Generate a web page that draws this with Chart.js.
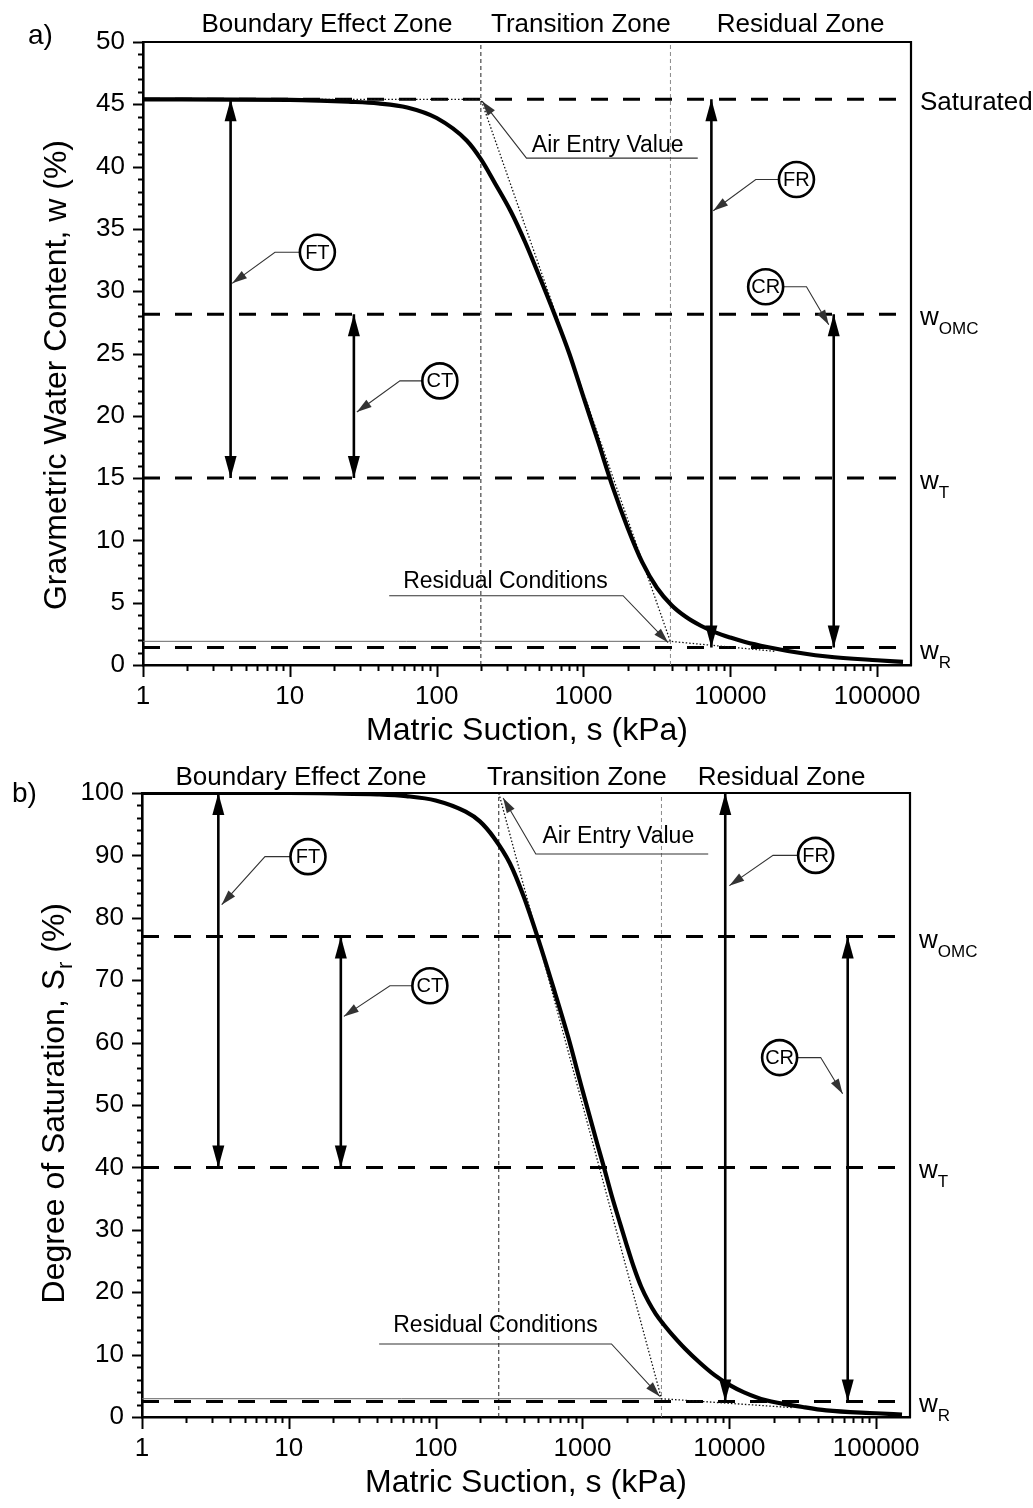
<!DOCTYPE html>
<html>
<head>
<meta charset="utf-8">
<title>Water content and saturation vs matric suction</title>
<script src="https://cdn.jsdelivr.net/npm/chart.js@4.4.1/dist/chart.umd.min.js"></script>
<style>
  html, body { margin: 0; padding: 0; background: #fff; }
  canvas { display: block; }
</style>
</head>
<body>
<canvas id="chart-a" width="1033" height="754"></canvas>
<canvas id="chart-b" width="1033" height="754"></canvas>
<script>
const FONT = "'Liberation Sans', Arial, Helvetica, sans-serif";

/* ── shared ── */
const X_MAX = 170000;
const decades = [1, 10, 100, 1000, 10000, 100000];
const arrowNames = ['FT', 'CT', 'FR', 'CR'];

/* ── panel a: gravimetric water content ── */
const suctionA = [1, 10, 16, 25, 40, 63, 100, 160, 200, 250, 320, 400, 500, 630, 800, 1000, 1260, 1580, 2000, 2510, 3160, 3980, 5000, 6300, 7900, 10000, 12600, 17800, 31600, 45700, 100000, 150000];
const waterA   = [45.4, 45.36, 45.3, 45.21, 45.07, 44.75, 43.9, 42.1, 40.6, 38.65, 36.4, 33.95, 31.2, 28.25, 25.0, 21.5, 17.9, 14.3, 11.0, 8.25, 6.2, 4.8, 3.85, 3.15, 2.62, 2.2, 1.85, 1.45, 0.92, 0.68, 0.38, 0.25];
const levelValuesA = [45.4, 28.15, 15, 1.4];
const levelNamesA  = ['Saturated', 'w|OMC', 'w|T', 'w|R'];
const zoneSuctionA = [200, 3910];
const airEntryA    = [200, 45.4];
const residualA    = [3900, 1.9];
const resTangentA  = [20000, 1.1];
const arrowSuctionA = [3.95, 27.3, 7430, 50600];
const arrowTopA     = [45.4, 28.15, 45.4, 28.15];
const arrowBottomA  = [15, 15, 1.4, 1.4];

/* ── panel b: degree of saturation ── */
const suctionB    = [1, 10, 20, 40, 63, 100, 160, 200, 250, 320, 400, 500, 630, 800, 1000, 1260, 1400, 1580, 1780, 2000, 2240, 2510, 2820, 3160, 3550, 3980, 5000, 6300, 7900, 10000, 12600, 17800, 31600, 45700, 100000, 150000];
const saturationB = [100, 100, 99.93, 99.78, 99.5, 98.8, 97.0, 95.45, 92.8, 88.75, 83.25, 76.55, 69.0, 60.85, 52.35, 43.8, 40.0, 35.5, 31.45, 27.55, 23.95, 20.87, 18.45, 16.5, 14.9, 13.5, 10.95, 8.7, 6.75, 5.15, 3.95, 2.67, 1.6, 1.05, 0.6, 0.4];
const levelValuesB = [77, 40, 2.5];
const levelNamesB  = ['w|OMC', 'w|T', 'w|R'];
const zoneSuctionB = [269, 3450];
const airEntryB    = [269, 100];
const residualB    = [3450, 2.93];
const resTangentB  = [27000, 1.5];
const arrowSuctionB = [3.31, 22.6, 9380, 64000];
const arrowTopB     = [100, 77, 100, 77];
const arrowBottomB  = [40, 40, 2.5, 2.5];

/* ── layout (annotation positions in data units) ── */
const panelA = {
  id: 'a', top: 42, bottom: 665, left: 143, right: 911, yMax: 50, yStep: 5, yMinor: 1,
  suction: suctionA, value: waterA, levels: levelValuesA, levelNames: levelNamesA,
  zones: zoneSuctionA, air: airEntryA, res: residualA, resEnd: resTangentA,
  arrowX: arrowSuctionA, arrowTop: arrowTopA, arrowBottom: arrowBottomA,
  letter: ['a)', 28, 44],
  yTitle: [{t: 'Gravmetric Water Content, w (%)', s: 32}], yTitleX: 66, yTitleEnd: 140,
  zoneTitleDy: -10,
  zoneTitles: [[17.9, 'Boundary Effect Zone'], [959, 'Transition Zone'], [30100, 'Residual Zone']],
  circles: [[15.4, 33.12], [105.1, 22.8], [28200, 38.97], [17400, 30.36]],
  leaders: [
    [[15.4, 33.12], [7.92, 33.12], [4.05, 30.63]],
    [[105.1, 22.8], [56.2, 22.8], [28.6, 20.3]],
    [[28200, 38.97], [14900, 38.97], [7650, 36.46]],
    [[17400, 30.36], [33000, 30.36], [46800, 27.3]]
  ],
  notes: [['Air Entry Value', 445, 41.16], ['Residual Conditions', 59.1, 6.17]],
  noteLeaders: [
    [[6000, 40.68], [409, 40.68], [204, 45.25]],
    [[47.5, 5.56], [1860, 5.56], [3767, 1.8]]
  ]
};

const panelB = {
  id: 'b', top: 39, bottom: 663, left: 142, right: 910, yMax: 100, yStep: 10, yMinor: 2,
  suction: suctionB, value: saturationB, levels: levelValuesB, levelNames: levelNamesB,
  zones: zoneSuctionB, air: airEntryB, res: residualB, resEnd: resTangentB,
  arrowX: arrowSuctionB, arrowTop: arrowTopB, arrowBottom: arrowBottomB,
  letter: ['b)', 12, 48],
  yTitle: [{t: 'Degree of Saturation, S', s: 32}, {t: 'r', s: 22, dy: 8}, {t: ' (%)', s: 32}],
  yTitleX: 64, yTitleEnd: 149,
  zoneTitleDy: -8,
  zoneTitles: [[12.1, 'Boundary Effect Zone'], [915, 'Transition Zone'], [22700, 'Residual Zone']],
  circles: [[13.5, 89.8], [91.3, 69.1], [38700, 90.0], [22000, 57.6]],
  leaders: [
    [[13.5, 89.8], [6.88, 89.8], [3.49, 82.1]],
    [[91.3, 69.1], [48.8, 69.1], [23.7, 64.2]],
    [[38700, 90.0], [19840, 90.0], [10000, 85.15]],
    [[22000, 57.6], [41900, 57.6], [59100, 51.8]]
  ],
  notes: [['Air Entry Value', 534, 92.04], ['Residual Conditions', 51.4, 13.67]],
  noteLeaders: [
    [[7180, 90.22], [481, 90.22], [288, 99.2]],
    [[41.2, 11.7], [1575, 11.7], [3360, 3.3]]
  ]
};

/* ── helpers ── */
function pts(pairs) { return pairs.map(p => ({x: p[0], y: p[1]})); }

function head(ctx, from, tip, len, half) {
  const a = Math.atan2(tip.y - from.y, tip.x - from.x);
  const c = Math.cos(a), s = Math.sin(a);
  ctx.beginPath();
  ctx.moveTo(tip.x, tip.y);
  ctx.lineTo(tip.x - len * c + half * s, tip.y - len * s - half * c);
  ctx.lineTo(tip.x - len * c - half * s, tip.y - len * s + half * c);
  ctx.closePath();
  ctx.fill();
}

// draws runs of text [{t, s, dy}] starting at x along baseline y
function runs(ctx, parts, x, y, align) {
  let total = 0;
  parts.forEach(p => { ctx.font = p.s + 'px ' + FONT; total += ctx.measureText(p.t).width; });
  let cx = align === 'right' ? x - total : align === 'center' ? x - total / 2 : x;
  ctx.textAlign = 'left';
  parts.forEach(p => {
    ctx.font = p.s + 'px ' + FONT;
    ctx.fillText(p.t, cx, y + (p.dy || 0));
    cx += ctx.measureText(p.t).width;
  });
}

function levelParts(name) {
  const [main, sub] = name.split('|');
  const parts = [{t: main, s: 26}];
  if (sub) parts.push({t: sub, s: 17, dy: 9});
  return parts;
}

function makeDecor(P) {
  return {
    id: 'decor' + P.id,
    afterDraw(chart) {
      const ctx = chart.ctx, ca = chart.chartArea;
      const xs = chart.scales.x, ys = chart.scales.y;
      const px = v => xs.getPixelForValue(v), py = v => ys.getPixelForValue(v);
      ctx.save();
      ctx.fillStyle = '#000';
      ctx.strokeStyle = '#000';

      /* top + right frame */
      ctx.lineWidth = 2.2;
      ctx.beginPath();
      ctx.moveTo(ca.left, ca.top);
      ctx.lineTo(ca.right, ca.top);
      ctx.lineTo(ca.right, ca.bottom + 1);
      ctx.stroke();

      /* x tick marks: decades long, 2..9 short */
      ctx.lineWidth = 2;
      xs.ticks.forEach(t => {
        const e = Math.floor(Math.log10(t.value) + 1e-9);
        const m = t.value / Math.pow(10, e);
        if (Math.abs(m - Math.round(m)) > 1e-6) return;
        const x = Math.round(px(t.value)) + 0.5;
        const len = Math.round(m) === 1 ? 12 : 6;
        ctx.beginPath();
        ctx.moveTo(x, ca.bottom);
        ctx.lineTo(x, ca.bottom + len);
        ctx.stroke();
      });

      /* y tick marks */
      const n = Math.round(P.yMax / P.yMinor);
      for (let k = 0; k <= n; k++) {
        const v = k * P.yMinor;
        const y = Math.round(py(v)) + 0.5;
        const len = (v % P.yStep === 0) ? 10 : 5;
        ctx.beginPath();
        ctx.moveTo(ca.left - len, y);
        ctx.lineTo(ca.left, y);
        ctx.stroke();
      }

      /* arrowheads */
      chart.data.datasets.forEach((ds, i) => {
        if (!ds.heads) return;
        const d = chart.getDatasetMeta(i).data;
        ctx.fillStyle = ds.borderColor;
        if (ds.heads === 'both') {
          head(ctx, d[1], d[0], 22, 6);
          head(ctx, d[0], d[1], 22, 6);
        } else {
          head(ctx, d[d.length - 2], d[d.length - 1], 15, 4.5);
        }
      });
      ctx.fillStyle = '#000';

      /* circle labels */
      chart.data.datasets.forEach((ds, i) => {
        if (!ds.circleLabels) return;
        const d = chart.getDatasetMeta(i).data;
        ctx.font = '20px ' + FONT;
        ctx.textAlign = 'center';
        ctx.textBaseline = 'middle';
        d.forEach((el, j) => ctx.fillText(ds.circleLabels[j], el.x, el.y + 1));
      });
      ctx.textBaseline = 'alphabetic';

      /* zone titles */
      ctx.font = '26px ' + FONT;
      ctx.textAlign = 'center';
      P.zoneTitles.forEach(([s, t]) => ctx.fillText(t, px(s), ca.top + P.zoneTitleDy));

      /* notes */
      ctx.font = '23px ' + FONT;
      ctx.textAlign = 'left';
      P.notes.forEach(([t, s, v]) => ctx.fillText(t, px(s), py(v)));

      /* right-hand level labels */
      P.levels.forEach((v, i) => runs(ctx, levelParts(P.levelNames[i]), ca.right + 9, py(v) + 11, 'left'));

      /* panel letter */
      ctx.font = '28px ' + FONT;
      ctx.textAlign = 'left';
      ctx.fillText(P.letter[0], P.letter[1], P.letter[2]);

      /* axis titles */
      runs(ctx, [{t: 'Matric Suction, s (kPa)', s: 32}], (ca.left + ca.right) / 2, ca.bottom + 75, 'center');
      ctx.save();
      ctx.translate(P.yTitleX, P.yTitleEnd);
      ctx.rotate(-Math.PI / 2);
      runs(ctx, P.yTitle, 0, 0, 'right');
      ctx.restore();

      ctx.restore();
    }
  };
}

function makePanel(canvasId, P) {
  const W = 1033, H = 754;
  const yMin = 0, yMax = P.yMax;
  const datasets = [];

  /* main curve */
  datasets.push({
    data: P.suction.map((s, i) => ({x: s, y: P.value[i]})),
    borderColor: '#000', borderWidth: 4.2, cubicInterpolationMode: 'monotone', order: 2
  });

  /* reference levels */
  P.levels.forEach(v => datasets.push({
    data: pts([[1, v], [X_MAX, v]]),
    borderColor: '#000', borderWidth: 3, borderDash: [17, 15], order: 8
  }));

  /* residual level, thin solid */
  datasets.push({
    data: pts([[1, P.res[1]], [P.res[0], P.res[1]]]),
    borderColor: '#666', borderWidth: 1, order: 9
  });

  /* zone boundaries */
  P.zones.forEach((s, i) => datasets.push({
    data: pts([[s, yMin], [s, yMax]]),
    borderColor: i === 0 ? '#222' : '#8a8a8a', borderWidth: 1, borderDash: [4, 3], order: 9
  }));

  /* tangent construction */
  datasets.push({
    data: pts([[1, P.air[1]], P.air, P.res, P.resEnd]),
    borderColor: '#111', borderWidth: 1.3, borderDash: [1.5, 2], order: 7
  });

  /* FT / CT / FR / CR range arrows */
  P.arrowX.forEach((s, i) => datasets.push({
    data: pts([[s, P.arrowTop[i]], [s, P.arrowBottom[i]]]),
    borderColor: '#000', borderWidth: 2.6, heads: 'both', order: 3
  }));

  /* label leaders */
  P.leaders.concat(P.noteLeaders).forEach(l => datasets.push({
    data: pts(l), borderColor: '#333', borderWidth: 1.1, heads: 'end', order: 5
  }));

  /* label circles */
  datasets.push({
    data: pts(P.circles), showLine: false, circleLabels: arrowNames,
    pointRadius: 17.5, pointStyle: 'circle', pointBackgroundColor: '#fff',
    pointBorderColor: '#000', pointBorderWidth: 2.6, order: 0
  });

  return new Chart(document.getElementById(canvasId), {
    type: 'line',
    data: { datasets },
    plugins: [makeDecor(P)],
    options: {
      responsive: false, maintainAspectRatio: false, animation: false, events: [],
      layout: { padding: { left: 0, right: W - P.right, top: P.top, bottom: 0 } },
      elements: {
        point: { radius: 0, hoverRadius: 0 },
        line: { fill: false, tension: 0, borderCapStyle: 'butt' }
      },
      plugins: { legend: { display: false }, tooltip: { enabled: false }, title: { display: false } },
      scales: {
        x: {
          type: 'logarithmic', min: 1, max: X_MAX, position: 'bottom',
          grid: { display: true, drawOnChartArea: false, drawTicks: false },
          border: { display: true, color: '#000', width: 2.6 },
          ticks: {
            autoSkip: false, maxRotation: 0, padding: 16, color: '#000',
            font: { size: 26, family: FONT },
            callback: v => decades.some(d => Math.abs(d - v) < 1e-6) ? String(v) : ''
          },
          afterFit: s => { s.height = H - P.bottom; }
        },
        y: {
          type: 'linear', min: yMin, max: yMax,
          grid: { display: true, drawOnChartArea: false, drawTicks: false },
          border: { display: true, color: '#000', width: 2.6 },
          ticks: { stepSize: P.yStep, padding: 18, color: '#000', font: { size: 26, family: FONT } },
          afterFit: s => { s.width = P.left; }
        }
      }
    }
  });
}

makePanel('chart-a', panelA);
makePanel('chart-b', panelB);
</script>
</body>
</html>
